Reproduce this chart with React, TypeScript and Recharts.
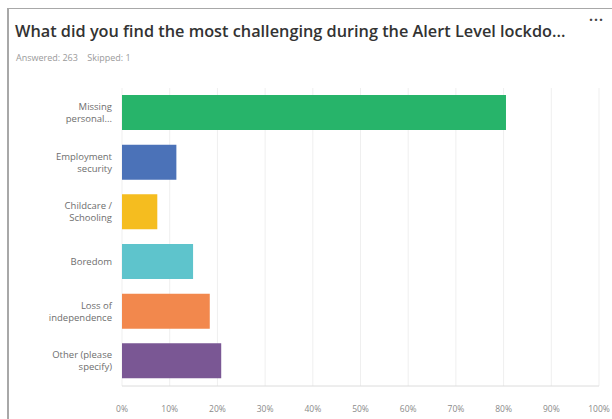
import { Bar, BarChart, CartesianGrid, Cell, XAxis, YAxis } from 'recharts';

const categories = [
  'Missing personal...',
  'Employment security',
  'Childcare / Schooling',
  'Boredom',
  'Loss of independence',
  'Other (please specify)',
];
const labelLines = [
  ['Missing', 'personal...'],
  ['Employment', 'security'],
  ['Childcare /', 'Schooling'],
  ['Boredom'],
  ['Loss of', 'independence'],
  ['Other (please', 'specify)'],
];
const percents = [80.5, 11.4, 7.4, 14.9, 18.4, 20.8];
const barColors = ['#27b46a', '#4b72b8', '#f5bd1f', '#5ec4cc', '#f2884d', '#7a5794'];
const xTicks = [0, 10, 20, 30, 40, 50, 60, 70, 80, 90, 100];

const data = categories.map((name, i) => ({ name, value: percents[i], idx: i }));

const font = '"Open Sans", "DejaVu Sans", sans-serif';

function CategoryTick(props: any) {
  const { x, y, payload } = props;
  const lines = labelLines[payload.index] || [payload.value];
  const lh = 12;
  const start = y - ((lines.length - 1) * lh) / 2;
  return (
    <text x={x} y={start} textAnchor="end" fill="#6e6e6e" fontSize={9.5} fontFamily={font}>
      {lines.map((l: string, i: number) => (
        <tspan key={i} x={x} y={start + i * lh} dy="0.35em">
          {l}
        </tspan>
      ))}
    </text>
  );
}

export default function App() {
  return (
    <div style={{ position: 'absolute', left: 0, top: 0, width: 612, height: 419, background: '#fff', overflow: 'hidden', fontFamily: font }}>
      <div style={{ position: 'absolute', left: 7, top: 8, width: 605, height: 411, borderTop: '1px solid #a8a8a8', borderLeft: '2px solid #a8a8a8' }} />
      <div style={{ position: 'absolute', right: 8, top: 6, fontSize: 14, color: '#444', letterSpacing: 1, fontWeight: 700 }}>...</div>
      <div style={{ position: 'absolute', left: 15, top: 20, fontSize: 16.3, fontWeight: 600, color: '#333', whiteSpace: 'nowrap' }}>
        What did you find the most challenging during the Alert Level lockdo...
      </div>
      <div style={{ position: 'absolute', left: 16, top: 51, fontSize: 9, color: '#9a9a9a', whiteSpace: 'nowrap' }}>
        Answered: 263&nbsp;&nbsp;&nbsp;&nbsp;Skipped: 1
      </div>
      <div style={{ position: 'absolute', left: 0, top: 0 }}>
        <BarChart
          width={612}
          height={419}
          data={data}
          layout="vertical"
          margin={{ top: 88, right: 13, bottom: 3, left: 0 }}
          barSize={35}
        >
          <CartesianGrid horizontal={false} stroke="#efefef" />
          <XAxis
            type="number"
            domain={[0, 100]}
            ticks={xTicks}
            tickFormatter={(v) => `${v}%`}
            tick={{ fill: '#8a8a8a', fontSize: 8.5, fontFamily: font }}
            tickLine={false}
            axisLine={{ stroke: '#dcdcdc' }}
            height={30}
            interval={0}
            tickMargin={14}
          />
          <YAxis
            type="category"
            dataKey="name"
            width={122}
            tick={<CategoryTick />}
            tickLine={false}
            axisLine={false}
            interval={0}
            tickMargin={4}
          />
          <Bar dataKey="value" isAnimationActive={false}>
            {data.map((d) => (
              <Cell key={d.name} fill={barColors[d.idx]} />
            ))}
          </Bar>
        </BarChart>
      </div>
    </div>
  );
}
